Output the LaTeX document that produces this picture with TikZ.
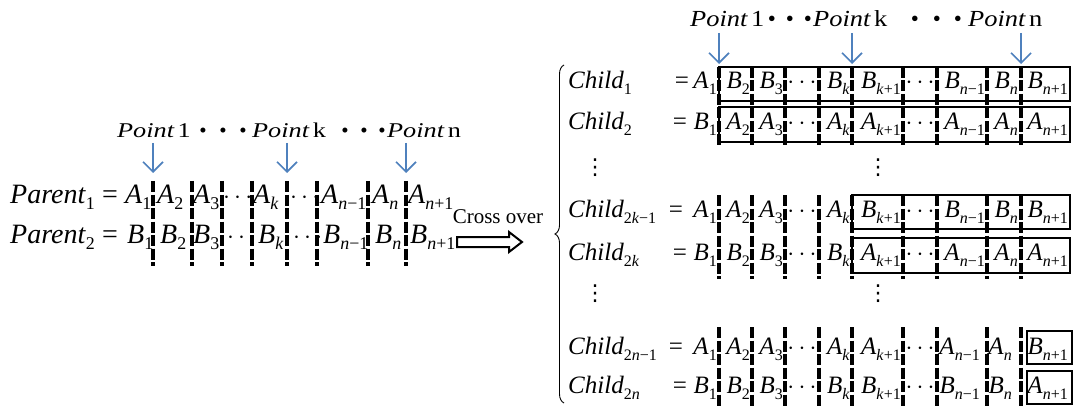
\documentclass[tikz,border=0pt]{standalone}
\usepackage{fontspec}
\setmainfont{Liberation Serif}
\newfontfamily\djv{DejaVu Sans}
\usetikzlibrary{arrows.meta,decorations.pathreplacing}
\makeatletter
\newcommand\sbx[1]{\raisebox{-0.24em}{\fontsize{\fpeval{0.64*\f@size}}{1}\selectfont #1}}
\makeatother
\newcommand\el[2]{\textit{#1}\sbx{#2}}
\definecolor{ptblue}{RGB}{79,129,189}
\begin{document}
\begin{tikzpicture}[x=1pt,y=-1pt,
  sep/.style={line width=3.2pt, dash pattern=on 11pt off 2.5pt},
  bx/.style={line width=1.4pt},
  parr/.style={draw=ptblue, line width=1.6pt, -{Straight Barb[length=10pt,width=20pt]}},
  ltx/.style={font=\fontsize{28}{30}\selectfont, inner sep=0pt},
  rtx/.style={font=\fontsize{25}{27}\selectfont, inner sep=0pt},
  lpt/.style={font=\fontsize{21}{24}\selectfont, inner sep=0pt, anchor=base west},
  rpt/.style={font=\fontsize{23}{26}\selectfont, inner sep=0pt, anchor=base west},
  vdt/.style={font=\djv\fontsize{22}{24}\selectfont, inner sep=0pt},
]
\useasboundingbox (0,0) rectangle (1075,406);

% ---------- left: point labels ----------
\node[lpt] (lp1) at (117,138) {\scalebox{1.25}[1]{\textit{Point}\hspace{0.12em}1}};
\node[lpt] (lpk) at (252,138) {\scalebox{1.25}[1]{\textit{Point}\hspace{0.12em}k}};
\node[lpt] (lpn) at (387,138) {\scalebox{1.25}[1]{\textit{Point}\hspace{0.12em}n}};
\foreach \x [count=\i] in {203,223,243,345,364,382}
  \node[lpt, anchor=base] (lbul\i) at (\x,138) {•};

\coordinate (la1) at (153,143); \coordinate (lb1) at (153,173);
\coordinate (la2) at (287,143); \coordinate (lb2) at (287,173);
\coordinate (la3) at (406,143); \coordinate (lb3) at (406,173);
\draw[parr] (la1) -- (lb1);
\draw[parr] (la2) -- (lb2);
\draw[parr] (la3) -- (lb3);

% ---------- left: parents ----------
\node[ltx, anchor=base west] (par1) at (10,203) {\textit{Parent}\sbx{1}};
\node[ltx, anchor=base] (peq1) at (110,203) {=};
\node[ltx, anchor=base west] (par2) at (10,243) {\textit{Parent}\sbx{2}};
\node[ltx, anchor=base] (peq2) at (110,243) {=};
\foreach \x/\t [count=\i] in {125/{\el{A}{1}}, 157/{\el{A}{2}}, 193/{\el{A}{3}}, 223/{$\cdots$},
    253/{\el{A}{\textit{k}}}, 290/{$\cdots$}, 321/{\el{A}{\textit{n}−1}}, 372/{\el{A}{\textit{n}}}, 408/{\el{A}{\textit{n}+1}}}
  \node[ltx, anchor=base west] (pa\i) at (\x,203) {\t};
\foreach \x/\t [count=\i] in {127/{\el{B}{1}}, 160/{\el{B}{2}}, 193/{\el{B}{3}}, 227/{$\cdots$},
    258/{\el{B}{\textit{k}}}, 293/{$\cdots$}, 323/{\el{B}{\textit{n}−1}}, 375/{\el{B}{\textit{n}}}, 410/{\el{B}{\textit{n}+1}}}
  \node[ltx, anchor=base west] (pb\i) at (\x,243) {\t};
\foreach \x in {153,192,222,252,287,317,368,406}
  \draw[sep] (\x,181) -- (\x,266);

% ---------- cross over ----------
\node[font=\fontsize{21}{23}\selectfont, inner sep=0pt] (cross) at (498,217) {Cross over};
\draw[line width=2pt, line join=miter] (457,237) -- (509,237) -- (509,232) -- (522,242) -- (509,252) -- (509,247) -- (457,247) -- cycle;

% ---------- brace ----------
\coordinate (bt) at (564,65); \coordinate (bb) at (564,403);
\draw[line width=0.9pt, decorate, decoration={brace, amplitude=9pt}] (bb) -- (bt);

% ---------- right: point labels ----------
\node[rpt] (rp1) at (690,27) {\scalebox{1.15}[1]{\textit{Point}\hspace{0.12em}1}};
\node[rpt] (rpk) at (813,27) {\scalebox{1.15}[1]{\textit{Point}\hspace{0.12em}k}};
\node[rpt] (rpn) at (968,27) {\scalebox{1.15}[1]{\textit{Point}\hspace{0.12em}n}};
\foreach \x [count=\i] in {772,790,808,915,937,958}
  \node[rpt, anchor=base] (rbul\i) at (\x,27) {•};
\coordinate (ra1) at (719,33); \coordinate (rb1) at (719,64);
\coordinate (ra2) at (852,33); \coordinate (rb2) at (852,64);
\coordinate (ra3) at (1021,33); \coordinate (rb3) at (1021,64);
\draw[parr] (ra1) -- (rb1);
\draw[parr] (ra2) -- (rb2);
\draw[parr] (ra3) -- (rb3);

% ---------- right: boxes ----------
\draw[bx] (719,67) rectangle (1070,101);
\draw[bx] (719,107) rectangle (1070,142);
\draw[bx] (852,195) rectangle (1070,229);
\draw[bx] (852,238) rectangle (1070,273);
\draw[bx] (1027,331) rectangle (1072,364);
\draw[bx] (1027,371) rectangle (1072,404);

% ---------- right: children ----------
% row 1
\node[rtx, anchor=base west] (c1) at (568,89) {\textit{Child}\sbx{1}};
\node[rtx, anchor=base] (ce1) at (682,89) {=};
\foreach \x/\t [count=\i] in {717/{\el{A}{1}}, 750/{\el{B}{2}}, 783/{\el{B}{3}}, 850/{\el{B}{\textit{k}}},
    901/{\el{B}{\textit{k}+1}}, 985/{\el{B}{\textit{n}−1}}, 1018/{\el{B}{\textit{n}}}, 1068/{\el{B}{\textit{n}+1}}}
  \node[rtx, anchor=base east] (ra\i) at (\x,89) {\t};
\node[rtx, anchor=base] (rad1) at (802,89) {$\cdots$};
\node[rtx, anchor=base] (rad2) at (920,89) {$\cdots$};
% row 2
\node[rtx, anchor=base west] (c2) at (568,130) {\textit{Child}\sbx{2}};
\node[rtx, anchor=base] (ce2) at (680,130) {=};
\foreach \x/\t [count=\i] in {717/{\el{B}{1}}, 750/{\el{A}{2}}, 783/{\el{A}{3}}, 850/{\el{A}{\textit{k}}},
    901/{\el{A}{\textit{k}+1}}, 985/{\el{A}{\textit{n}−1}}, 1018/{\el{A}{\textit{n}}}, 1068/{\el{A}{\textit{n}+1}}}
  \node[rtx, anchor=base east] (rb\i) at (\x,130) {\t};
\node[rtx, anchor=base] (rbd1) at (802,130) {$\cdots$};
\node[rtx, anchor=base] (rbd2) at (920,130) {$\cdots$};
% vdots 1
\node[vdt] (vd1) at (595,168) {⋮};
\node[vdt] (vd2) at (878,168) {⋮};
% row 3
\node[rtx, anchor=base west] (c3) at (568,217) {\textit{Child}\sbx{2\textit{k}−1}};
\node[rtx, anchor=base] (ce3) at (676,217) {=};
\foreach \x/\t [count=\i] in {717/{\el{A}{1}}, 750/{\el{A}{2}}, 783/{\el{A}{3}}, 850/{\el{A}{\textit{k}}},
    901/{\el{B}{\textit{k}+1}}, 985/{\el{B}{\textit{n}−1}}, 1018/{\el{B}{\textit{n}}}, 1068/{\el{B}{\textit{n}+1}}}
  \node[rtx, anchor=base east] (rc\i) at (\x,217) {\t};
\node[rtx, anchor=base] (rcd1) at (802,217) {$\cdots$};
\node[rtx, anchor=base] (rcd2) at (920,217) {$\cdots$};
% row 4
\node[rtx, anchor=base west] (c4) at (568,260) {\textit{Child}\sbx{2\textit{k}}};
\node[rtx, anchor=base] (ce4) at (680,260) {=};
\foreach \x/\t [count=\i] in {717/{\el{B}{1}}, 750/{\el{B}{2}}, 783/{\el{B}{3}}, 850/{\el{B}{\textit{k}}},
    901/{\el{A}{\textit{k}+1}}, 985/{\el{A}{\textit{n}−1}}, 1018/{\el{A}{\textit{n}}}, 1068/{\el{A}{\textit{n}+1}}}
  \node[rtx, anchor=base east] (rd\i) at (\x,260) {\t};
\node[rtx, anchor=base] (rdd1) at (802,260) {$\cdots$};
\node[rtx, anchor=base] (rdd2) at (920,260) {$\cdots$};
% vdots 2
\node[vdt] (vd3) at (595,294) {⋮};
\node[vdt] (vd4) at (878,294) {⋮};
% row 5
\node[rtx, anchor=base west] (c5) at (568,354) {\textit{Child}\sbx{2\textit{n}−1}};
\node[rtx, anchor=base] (ce5) at (676,354) {=};
\foreach \x/\t [count=\i] in {717/{\el{A}{1}}, 750/{\el{A}{2}}, 783/{\el{A}{3}}, 850/{\el{A}{\textit{k}}},
    901/{\el{A}{\textit{k}+1}}, 980/{\el{A}{\textit{n}−1}}, 1012/{\el{A}{\textit{n}}}, 1068/{\el{B}{\textit{n}+1}}}
  \node[rtx, anchor=base east] (re\i) at (\x,354) {\t};
\node[rtx, anchor=base] (red1) at (802,354) {$\cdots$};
\node[rtx, anchor=base] (red2) at (920,354) {$\cdots$};
% row 6
\node[rtx, anchor=base west] (c6) at (568,393) {\textit{Child}\sbx{2\textit{n}}};
\node[rtx, anchor=base] (ce6) at (680,393) {=};
\foreach \x/\t [count=\i] in {717/{\el{B}{1}}, 750/{\el{B}{2}}, 783/{\el{B}{3}}, 850/{\el{B}{\textit{k}}},
    901/{\el{B}{\textit{k}+1}}, 980/{\el{B}{\textit{n}−1}}, 1012/{\el{B}{\textit{n}}}, 1068/{\el{A}{\textit{n}+1}}}
  \node[rtx, anchor=base east] (rf\i) at (\x,393) {\t};
\node[rtx, anchor=base] (rfd1) at (802,393) {$\cdots$};
\node[rtx, anchor=base] (rfd2) at (920,393) {$\cdots$};

% ---------- right: dashed separators ----------
\foreach \x in {719,752,785,819,852,903,937,987,1021} {
  \draw[sep] (\x,67) -- (\x,148);
  \draw[sep] (\x,195) -- (\x,279);
  \draw[sep] (\x,327) -- (\x,406);
}
\end{tikzpicture}
\end{document}
